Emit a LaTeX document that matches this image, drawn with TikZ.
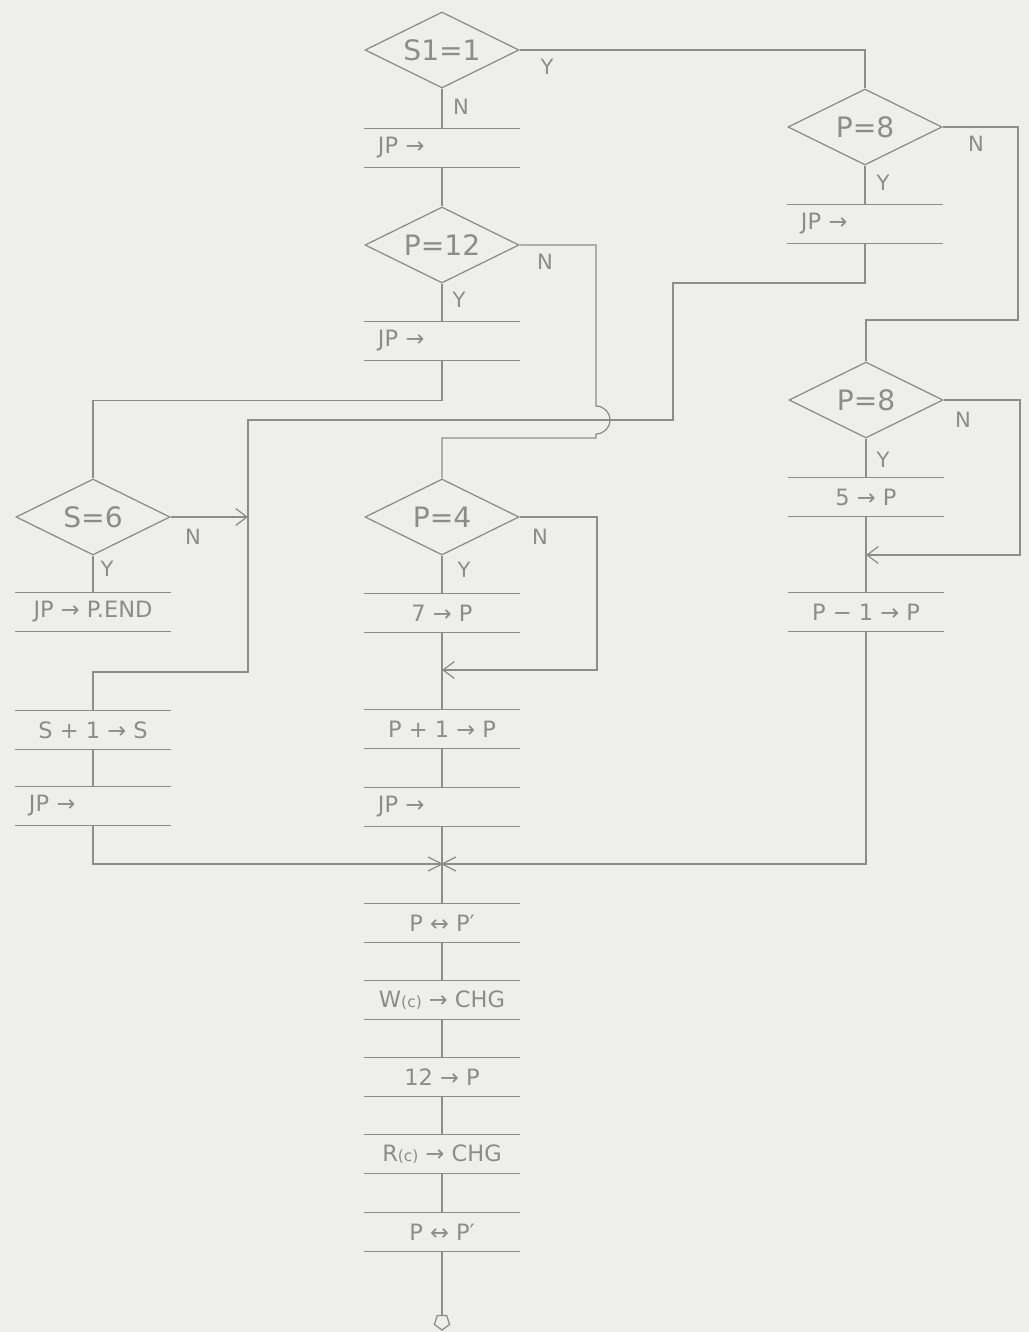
\documentclass[tikz,border=0pt]{standalone}
\usepackage{fontspec}
\setmainfont{DejaVu Sans}
\usetikzlibrary{
    arrows.meta,
    positioning,
    calc,
    shapes.geometric
}
\definecolor{pencil}{HTML}{8C8C8C}
\definecolor{paper}{HTML}{EEEEEB}
\tikzset{
  decide/.style={diamond, draw=pencil, line width=0.9pt, aspect=2, inner sep=0pt,
    minimum width=3.85cm, minimum height=1.9cm, font=\fontsize{20}{24}\selectfont, text=pencil},
  procbox/.style={inner sep=0pt, minimum width=3.9cm, minimum height=0.97cm,
    font=\fontsize{16}{19}\selectfont, text=pencil},
  jpbox/.style={procbox, text width=3.2cm, align=left},
  yn/.style={font=\fontsize{15}{18}\selectfont, text=pencil},
  flow/.style={draw=pencil, line width=0.9pt},
  into/.style={flow, -{Straight Barb[length=8pt, width=12pt]}}
}

\begin{document}
\begin{tikzpicture}[x=0.025cm, y=-0.025cm]
  \fill[paper] (0,0) rectangle (1029,1332);
  \useasboundingbox (0,0) rectangle (1029,1332);
  % main column
  \node[decide] (s1) at (442,50) {S1=1};
  \node[jpbox] (b1) at (442,148) {JP →};
  \node[decide] (p12) at (442,245) {P=12};
  \node[jpbox] (b2) at (442,341) {JP →};
  \node[decide] (p4) at (442,517) {P=4};
  \node[procbox] (b3) at (442,613) {7 → P};
  \node[procbox] (b4) at (442,729) {P + 1 → P};
  \node[jpbox] (b5) at (442,807) {JP →};
  \node[procbox] (b6) at (442,923) {P ↔ P′};
  \node[procbox] (b7) at (442,1000) {W{\fontsize{11}{13}\selectfont(c)} → CHG};
  \node[procbox] (b8) at (442,1077) {12 → P};
  \node[procbox] (b9) at (442,1154) {R{\fontsize{11}{13}\selectfont(c)} → CHG};
  \node[procbox] (b10) at (442,1232) {P ↔ P′};
  \node[regular polygon, regular polygon sides=5, shape border rotate=180, draw=pencil,
    line width=0.9pt, minimum size=0.4cm, inner sep=0pt] (stop) at (442,1322) {};
  % left column
  \node[decide] (s6) at (93,517) {S=6};
  \node[procbox] (l1) at (93,612) {JP → P.END};
  \node[procbox] (l2) at (93,730) {S + 1 → S};
  \node[jpbox] (l3) at (93,806) {JP →};
  % right column
  \node[decide] (p8a) at (865,127) {P=8};
  \node[jpbox] (r1) at (865,224) {JP →};
  \node[decide] (p8b) at (866,400) {P=8};
  \node[procbox] (r2) at (866,497) {5 → P};
  \node[procbox] (r3) at (866,612) {P − 1 → P};

  \foreach \n in {b1,b2,b3,b4,b5,b6,b7,b8,b9,b10,l1,l2,l3,r1,r2,r3}
     {\draw[flow] (\n.north west) -- (\n.north east);
      \draw[flow] (\n.south west) -- (\n.south east);}

  \coordinate (jn) at (442,864);
  \coordinate (m1) at (442,670);
  \coordinate (m2) at (866,555);
  \coordinate (s6in) at (248,517);

  % Y / N labels
  \node[yn] (s1y) at (547,67) {Y};
  \node[yn] (s1n) at (461,107) {N};
  \node[yn] (p12n) at (545,262) {N};
  \node[yn] (p12y) at (459,300) {Y};
  \node[yn] (p4n) at (540,537) {N};
  \node[yn] (p4y) at (464,570) {Y};
  \node[yn] (s6n) at (193,537) {N};
  \node[yn] (s6y) at (107,569) {Y};
  \node[yn] (p8an) at (976,144) {N};
  \node[yn] (p8ay) at (883,183) {Y};
  \node[yn] (p8bn) at (963,420) {N};
  \node[yn] (p8by) at (883,460) {Y};

  % connectors
  \draw[flow] (s1.east) -| (p8a.north);
  \draw[flow] (s1.south) -- (b1.north);
  \draw[flow] (b1.south) -- (p12.north);
  \draw[flow] (p12.south) -- (b2.north);
  \draw[flow] (b2.south) -- ++(0,40) -| (s6.north);
  \draw[flow] (p12.east) -| (596,406) arc[start angle=90, end angle=-90, radius=0.35cm]
     -- (596,438) -| (p4.north);
  \draw[flow] (p4.south) -- (b3.north);
  \draw[into] (p4.east) -| (597,670) -- (m1);
  \draw[flow] (b3.south) -- (b4.north);
  \draw[flow] (b4.south) -- (b5.north);
  \draw[flow] (b5.south) -- (b6.north);
  \draw[flow] (b6.south) -- (b7.north);
  \draw[flow] (b7.south) -- (b8.north);
  \draw[flow] (b8.south) -- (b9.north);
  \draw[flow] (b9.south) -- (b10.north);
  \draw[flow] (b10.south) -- (stop.north);
  \draw[flow] ($(jn)+(-14,-7)$) -- ($(jn)+(14,7)$);
  \draw[flow] ($(jn)+(-14,7)$) -- ($(jn)+(14,-7)$);

  \draw[into] (s6.east) -- (s6in);
  \draw[flow] (s6.south) -- (l1.north);
  \draw[flow] (r1.south) |- (673,283) |- (248,420) |- (93,672) -- (l2.north);
  \draw[flow] (l2.south) -- (l3.north);
  \draw[flow] (l3.south) |- (jn);

  \draw[flow] (p8a.south) -- (r1.north);
  \draw[flow] (p8a.east) -| (1018,320) -| (p8b.north);
  \draw[flow] (p8b.south) -- (r2.north);
  \draw[into] (p8b.east) -| (1020,555) -- (m2);
  \draw[flow] (r2.south) -- (r3.north);
  \draw[flow] (r3.south) |- (jn);
\end{tikzpicture}
\end{document}
